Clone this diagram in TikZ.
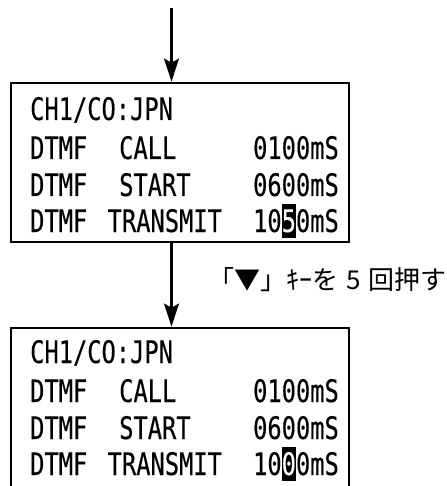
\documentclass[tikz,border=0pt]{standalone}
\usepackage{fontspec}
\usetikzlibrary{arrows.meta, calc, positioning}

\newfontfamily\lcdfont[FakeStretch=0.765, FakeBold=0.3]{DejaVu Sans Mono}
\newfontfamily\jpfont{Noto Sans CJK JP}
\newcommand{\hilite}[1]{{\setlength{\fboxsep}{0pt}\colorbox{black}{\rule[-0.19em]{0pt}{1.09em}\textcolor{white}{#1}}}}

\begin{document}
\begin{tikzpicture}[
    x=1pt, y=-1pt,
    >={Stealth[length=23pt, width=15pt, inset=4pt]},
    panel/.style={draw, rectangle, line width=2.8pt, minimum width=338pt, minimum height=159pt, inner sep=0pt},
    lcd/.style={font=\lcdfont\fontsize{31}{33}\selectfont, inner sep=0pt},
    labelStyle/.style={font=\jpfont\fontsize{26}{29}\selectfont, inner sep=0pt}
]
\useasboundingbox (0,0) rectangle (446,486);

% ----------------------------------------------------
% Display before
% ----------------------------------------------------
\coordinate (top) at (171.5, 8);
\node[panel] (Before) at (180, 162.5) {};

\node[lcd, anchor=base west] (B1) at (30, 120) {CH1/CO:JPN};
\node[lcd, anchor=base west] (B2a) at (30, 159) {DTMF};
\node[lcd, anchor=base west] (B2b) at (119, 159) {CALL};
\node[lcd, anchor=base east] (B2c) at (339, 159) {0100mS};
\node[lcd, anchor=base west] (B3a) at (30, 196) {DTMF};
\node[lcd, anchor=base west] (B3b) at (119, 196) {START};
\node[lcd, anchor=base east] (B3c) at (339, 196) {0600mS};
\node[lcd, anchor=base west] (B4a) at (30, 232) {DTMF};
\node[lcd, anchor=base west] (B4b) at (107.5, 232) {TRANSMIT};
\node[lcd, anchor=base east] (B4c) at (339, 232) {10\hilite{5}0mS};

\draw[->, line width=2.1pt] (top) -- (top |- Before.north);

% ----------------------------------------------------
% Display after
% ----------------------------------------------------
\node[panel, minimum height=162pt] (After) at (180, 409) {};

\node[lcd, anchor=base west] (A1) at (30, 363) {CH1/CO:JPN};
\node[lcd, anchor=base west] (A2a) at (30, 402) {DTMF};
\node[lcd, anchor=base west] (A2b) at (119, 402) {CALL};
\node[lcd, anchor=base east] (A2c) at (339, 402) {0100mS};
\node[lcd, anchor=base west] (A3a) at (30, 439) {DTMF};
\node[lcd, anchor=base west] (A3b) at (119, 439) {START};
\node[lcd, anchor=base east] (A3c) at (339, 439) {0600mS};
\node[lcd, anchor=base west] (A4a) at (30, 475) {DTMF};
\node[lcd, anchor=base west] (A4b) at (107.5, 475) {TRANSMIT};
\node[lcd, anchor=base east] (A4c) at (339, 475) {10\hilite{0}0mS};

\draw[->, line width=2.1pt] (top |- Before.south) -- (top |- After.north)
    node[midway, right=36pt, yshift=5pt, labelStyle] (Press) {「▼」ｷｰを\hspace{0.3em}5\hspace{0.3em}回押す};

\end{tikzpicture}
\end{document}
